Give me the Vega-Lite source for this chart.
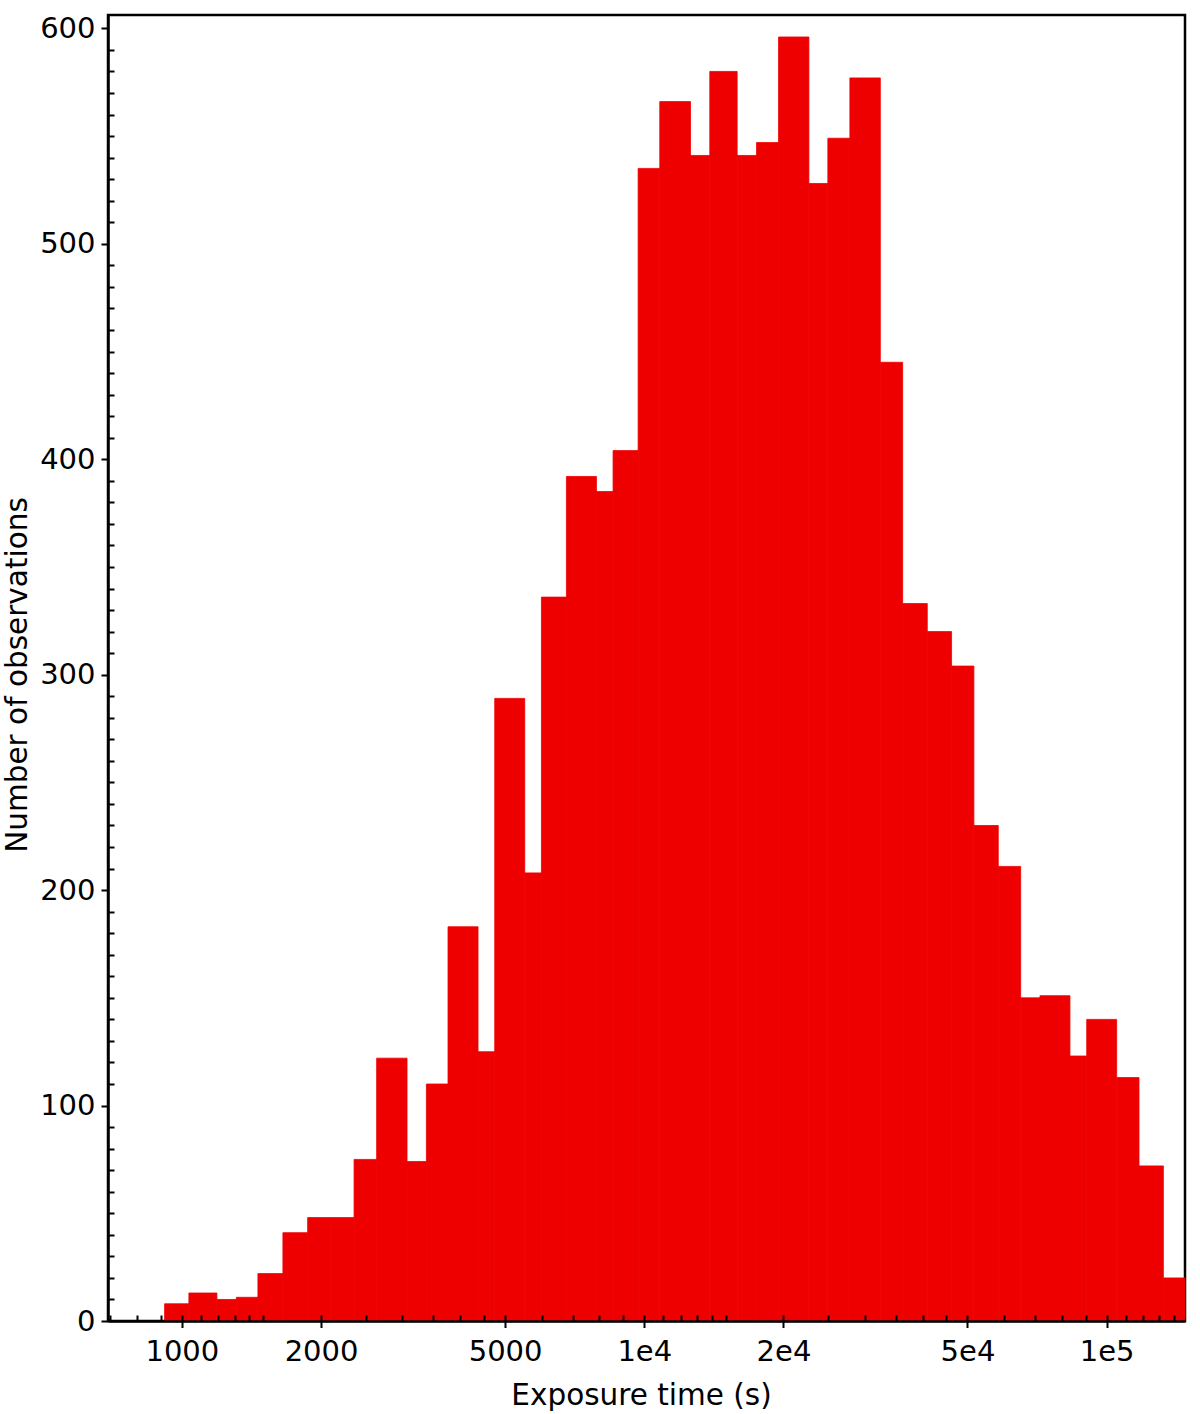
{
  "$schema": "https://vega.github.io/schema/vega-lite/v6.json",
  "autosize": "none",
  "width": 1077,
  "height": 1306,
  "padding": {"left": 108, "top": 15, "right": 15, "bottom": 93},
  "background": "white",
  "config": {
    "font": "DejaVu Sans",
    "view": {"stroke": "black", "strokeWidth": 2.5},
    "axis": {"zindex": 3}
  },
  "data": {
    "values": [
      {"lo": 917.6, "hi": 1035.5, "n": 8},
      {"lo": 1035.5, "hi": 1190.6, "n": 13},
      {"lo": 1190.6, "hi": 1311.4, "n": 10},
      {"lo": 1311.4, "hi": 1460.3, "n": 11},
      {"lo": 1460.3, "hi": 1653.9, "n": 22},
      {"lo": 1653.9, "hi": 1870.6, "n": 41},
      {"lo": 1870.6, "hi": 2097.6, "n": 48},
      {"lo": 2097.6, "hi": 2356.9, "n": 48},
      {"lo": 2356.9, "hi": 2637.7, "n": 75},
      {"lo": 2637.7, "hi": 3068.6, "n": 122},
      {"lo": 3068.6, "hi": 3379.1, "n": 74},
      {"lo": 3379.1, "hi": 3763.2, "n": 110},
      {"lo": 3763.2, "hi": 4370.2, "n": 183},
      {"lo": 4370.2, "hi": 4748.4, "n": 125},
      {"lo": 4748.4, "hi": 5514.7, "n": 289},
      {"lo": 5514.7, "hi": 5992.3, "n": 208},
      {"lo": 5992.3, "hi": 6786.6, "n": 336},
      {"lo": 6786.6, "hi": 7880.8, "n": 392},
      {"lo": 7880.8, "hi": 8560.5, "n": 385},
      {"lo": 8560.5, "hi": 9697.6, "n": 404},
      {"lo": 9697.6, "hi": 10802, "n": 535},
      {"lo": 10802, "hi": 12589, "n": 566},
      {"lo": 12589, "hi": 13857, "n": 541},
      {"lo": 13857, "hi": 15880, "n": 580},
      {"lo": 15880, "hi": 17489, "n": 541},
      {"lo": 17489, "hi": 19516, "n": 547},
      {"lo": 19516, "hi": 22699, "n": 596},
      {"lo": 22699, "hi": 24946, "n": 528},
      {"lo": 24946, "hi": 27839, "n": 549},
      {"lo": 27839, "hi": 32395, "n": 577},
      {"lo": 32395, "hi": 36203, "n": 445},
      {"lo": 36203, "hi": 40928, "n": 333},
      {"lo": 40928, "hi": 46190, "n": 320},
      {"lo": 46190, "hi": 51623, "n": 304},
      {"lo": 51623, "hi": 58284, "n": 230},
      {"lo": 58284, "hi": 65165, "n": 211},
      {"lo": 65165, "hi": 71736, "n": 150},
      {"lo": 71736, "hi": 83287, "n": 151},
      {"lo": 83287, "hi": 90534, "n": 123},
      {"lo": 90534, "hi": 105110, "n": 140},
      {"lo": 105110, "hi": 117470, "n": 113},
      {"lo": 117470, "hi": 132620, "n": 72},
      {"lo": 132620, "hi": 147700, "n": 20}
    ]
  },
  "layer": [
    {
      "mark": {"type": "rect", "color": "#ef0000", "stroke": "#ef0000", "strokeWidth": 0.8},
      "encoding": {
        "x": {
          "field": "lo", "type": "quantitative",
          "scale": {"type": "log", "domain": [692.2, 147700], "nice": false},
          "axis": {
            "orient": "bottom",
            "values": [1000, 2000, 5000, 10000, 20000, 50000, 100000],
            "labelExpr": "datum.value == 10000 ? '1e4' : datum.value == 20000 ? '2e4' : datum.value == 50000 ? '5e4' : datum.value == 100000 ? '1e5' : format(datum.value, 'd')",
            "title": "Exposure time (s)",
            "grid": false,
            "domain": true, "domainColor": "black", "domainWidth": 2.5,
            "ticks": true, "tickColor": "black", "tickWidth": 2, "tickSize": 6.5,
            "labelFontSize": 29, "labelColor": "black", "labelPadding": 10,
            "labelFlush": false, "labelOverlap": false, "labelBound": false,
            "titleFontSize": 29.5, "titleColor": "black", "titleFontWeight": "normal", "titlePadding": 15,
            "titleX": 533,
            "zindex": 3
          }
        },
        "x2": {"field": "hi"},
        "y": {
          "field": "n", "type": "quantitative",
          "scale": {"domain": [0, 606.2], "nice": false, "zero": true},
          "axis": {
            "orient": "left",
            "values": [0, 100, 200, 300, 400, 500, 600],
            "format": "d",
            "title": "Number of observations",
            "grid": false,
            "domain": true, "domainColor": "black", "domainWidth": 2.5,
            "ticks": true, "tickColor": "black", "tickWidth": 2, "tickSize": 7,
            "labelFontSize": 29, "labelColor": "black", "labelPadding": 6,
            "labelFlush": false, "labelOverlap": false, "labelBound": false,
            "titleFontSize": 29.5, "titleColor": "black", "titleFontWeight": "normal", "titlePadding": 7,
            "titleY": 659.5,
            "zindex": 3
          }
        },
        "y2": {"datum": 0}
      }
    },
    {
      "mark": {"type": "rect", "opacity": 0},
      "encoding": {
        "x": {
          "field": "lo", "type": "quantitative",
          "scale": {"type": "log", "domain": [692.2, 147700], "nice": false},
          "axis": {
            "orient": "top",
            "offset": -1306,
            "values": [700, 800, 900, 1000, 1100, 1200, 1300, 1400, 1500, 2000, 2500, 3000, 3500, 4000, 4500, 5000, 6000, 7000, 8000, 9000, 10000, 11000, 12000, 13000, 14000, 15000, 20000, 25000, 30000, 35000, 40000, 45000, 50000, 60000, 70000, 80000, 90000, 100000, 110000, 120000, 130000, 140000],
            "labels": false, "title": null, "grid": false, "domain": false,
            "ticks": true, "tickColor": "black", "tickWidth": 2, "tickSize": 6,
            "zindex": 3
          }
        },
        "x2": {"field": "hi"},
        "y": {
          "field": "n", "type": "quantitative",
          "scale": {"domain": [0, 606.2], "nice": false, "zero": true},
          "axis": {
            "orient": "right",
            "offset": -1077,
            "values": [10, 20, 30, 40, 50, 60, 70, 80, 90, 110, 120, 130, 140, 150, 160, 170, 180, 190, 210, 220, 230, 240, 250, 260, 270, 280, 290, 310, 320, 330, 340, 350, 360, 370, 380, 390, 410, 420, 430, 440, 450, 460, 470, 480, 490, 510, 520, 530, 540, 550, 560, 570, 580, 590],
            "labels": false, "title": null, "grid": false, "domain": false,
            "ticks": true, "tickColor": "black", "tickWidth": 2, "tickSize": 6,
            "zindex": 3
          }
        },
        "y2": {"datum": 0}
      }
    }
  ],
  "resolve": {"axis": {"x": "independent", "y": "independent"}}
}
